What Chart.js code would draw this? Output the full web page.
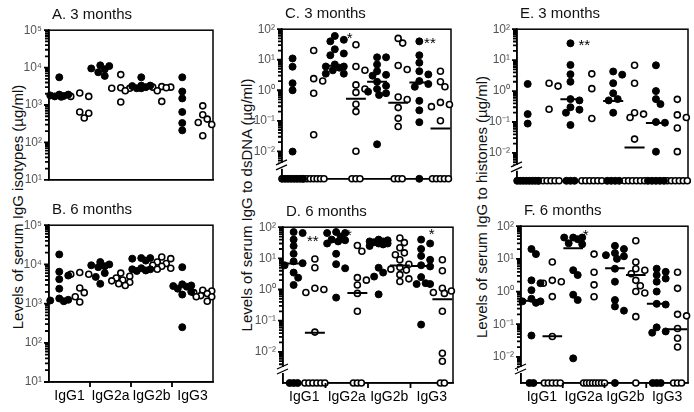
<!DOCTYPE html>
<html>
<head>
<meta charset="utf-8">
<script src="https://cdn.jsdelivr.net/npm/chart.js@4.4.1/dist/chart.umd.min.js"></script>
<style>
  body { margin: 0; background: #fff; width: 694px; height: 412px; position: relative; overflow: hidden; font-family: "Liberation Sans", Arial, sans-serif; }
  canvas { position: absolute; }
  .ttl { position: absolute; font-size: 15px; line-height: 15px; color: #111; white-space: nowrap; }
  .ytl { position: absolute; font-size: 15px; line-height: 15px; color: #111; white-space: nowrap; transform: translate(-50%, -50%) rotate(-90deg); }
</style>
</head>
<body>
<div class="ytl" style="left:17px; top:207px;">Levels of serum IgG isotypes (µg/ml)</div>
<div class="ytl" style="left:246px; top:205px;">Levels of serum IgG to dsDNA (µg/ml)</div>
<div class="ytl" style="left:481px; top:207px;">Levels of serum IgG to histones (µg/ml)</div>
<script>
const groups = ['IgG1', 'IgG2a', 'IgG2b', 'IgG3'];

// A. isotypes, 3 months
const aFilled = [[5500, 1800, 1900, 1700, 1750, 1900, 1650], [11500, 11000, 7500, 6000, 9500, 9000], [3300, 3300, 5500, 2800, 3200, 2800, 3000], [5500, 2300, 1500, 650, 330, 210]];
const aOpen = [[1700, 2100, 1700, 650, 450, 600], [6500, 2800, 2800, 2400, 2900, 1200], [3000, 3100, 3000, 2400, 2900, 1250], [950, 550, 420, 340, 300, 150]];

// B. isotypes, 6 months
const bFilled = [[18000, 6500, 5200, 4200, 2400, 1350, 1200, 1250, 1150], [10000, 9500, 11500, 6000, 8500, 9000, 4800, 3200], [12500, 14500, 14500, 14000, 7500, 7000, 7500, 8000, 6800], [8500, 2800, 2900, 2700, 3100, 2000, 1700, 2400, 250]];
const bOpen = [[5600, 6200, 5600, 2500, 1900, 1500, 1100], [6000, 4500, 5000, 3500, 3200, 2900, 4000, 3800], [8000, 14000, 11500, 15500, 7500, 9500, 9000, 10500], [1900, 2200, 2100, 1800, 1500, 1600, 1500, 1150]];

// C. dsDNA, 3 months
const cFilled = [[11, 5.9, 1.7, 1.0, 0.0098], [60, 45, 40, 22, 16, 14, 7, 6, 5.5, 6, 4.5, 3.5, 3.5], [12, 12, 7, 4.2, 3.2, 3.0, 1.9, 1.4, 1.1, 0.9, 0.8, 0.7, 0.017], [40, 14, 8, 4.2, 3.3, 2.0, 1.6, 1.3, 0.45, 0.22, 0.09]];
const cOpen = [[20, 2.0, 2.4, 0.8, 0.035], [31, 6, 4.5, 1.5, 1.1, 0.85, 0.35, 0.2, 0.01], [50, 35, 6.5, 4.8, 0.6, 0.5, 0.27, 0.12, 0.065], [4.2, 1.9, 1.3, 0.4, 0.34, 0.29, 0.1]];
const cFilledZeros = [8, 0, 0, 1];
const cOpenZeros = [7, 3, 3, 5];
const cFilledMed = [null, 6.4, 1.9, 1.8];
const cOpenMed = [null, 0.53, 0.39, 0.056];

// D. dsDNA, 6 months
const dFilled = [[70, 65, 40, 25, 14, 8, 7, 6, 3.5, 2.4, 1.4], [65, 65, 70, 50, 40, 38, 35, 30, 14, 6.5, 4.8, 0.55], [40, 35, 33, 30, 30, 35, 38, 28, 25, 5, 3.5, 2.6, 0.7], [40, 30, 20, 12, 9, 6, 5.5, 2.5, 1.6, 1.5, 1.5, 0.075]];
const dOpen = [[9.5, 5, 1.1, 1.0, 0.8, 0.043], [26, 17, 2.4, 2.0, 1.4, 0.75, 0.2], [45, 32, 22, 15, 13, 9, 6.5, 5.2, 4.5, 4.2, 3.0, 2.2, 1.8], [9, 4, 1.1, 0.9, 0.8, 0.75, 0.2, 0.009, 0.005]];
const dFilledZeros = [3, 0, 0, 0];
const dOpenZeros = [6, 3, 0, 2];
const dFilledMed = [6.9, 35, 30, 5.7];
const dOpenMed = [0.041, 0.78, 5.9, 0.49];

// E. histones, 3 months
const eFilled = [[1.7, 0.18, 0.089], [35, 7, 3.5, 2.0, 0.55, 0.5, 0.3, 0.25, 0.2, 0.08], [4.3, 3.4, 1.8, 0.85, 0.55, 0.5, 0.2], [6.8, 1.0, 0.55, 0.38, 0.1, 0.095, 0.011]];
const eOpen = [[1.45, 1.8, 0.26], [3.6, 1.2, 0.13], [6.8, 1.8, 0.2, 0.18, 0.14, 0.028], [0.54, 0.17, 0.14, 0.064, 0.011]];
const eFilledZeros = [8, 3, 4, 5];
const eOpenZeros = [6, 6, 6, 6];
const eFilledMed = [null, 0.54, 0.48, 0.093];
const eOpenMed = [null, null, 0.015, null];

// F. histones, 6 months
const fFilled = [[20, 14, 2.2, 1.8, 1.1, 0.6, 0.5, 0.5, 0.45, 0.045], [45, 45, 45, 40, 30, 28, 4.5, 3.2, 0.8, 0.55, 0.009], [25, 20, 15, 13, 12, 10, 5, 2, 0.55, 0.35, 0.26], [5, 4, 3.2, 2.5, 2.0, 1.0, 0.42, 0.4, 0.08, 0.06, 0.055]];
const fOpen = [[8, 2.2, 1.8, 2.0, 0.7, 0.042], [14, 3.9, 1.6, 0.69], [36, 8, 5, 4.5, 3.5, 2.2, 1.5, 1.0, 0.9, 0.17], [3.9, 1.25, 0.2, 0.18, 0.074, 0.037, 0.02]];
const fFilledZeros = [2, 0, 1, 3];
const fOpenZeros = [5, 8, 1, 3];
const fFilledMed = [0.52, 21, 5.2, 0.42];
const fOpenMed = [0.043, null, 3.2, 0.07];

// significance marks: x in group units (0..8), y in axis units
const cStars = [{ x: 3.2, y: 60, t: '*' }, { x: 7.0, y: 40, t: '**' }];
const dStars = [{ x: 1.4, y: 42, t: '**' }, { x: 3.1, y: 65, t: '*' }, { x: 7.0, y: 70, t: '*' }];
const eStars = [{ x: 3.15, y: 35, t: '**' }];
const fStars = [{ x: 3.1, y: 62, t: '*' }];

const panels = [
  { title: 'A. 3 months', left: 49, top: 24, w: 164, h: 162, logMin: 1, logMax: 5, filled: aFilled, open: aOpen, bottom: false },
  { title: 'B. 6 months', left: 49, top: 219, w: 164, h: 163, logMin: 1, logMax: 5, filled: bFilled, open: bOpen, bottom: true },
  { title: 'C. 3 months', left: 282, top: 23, w: 169, h: 162, logMin: -2.9, logMax: 2, filled: cFilled, open: cOpen, fz: cFilledZeros, oz: cOpenZeros, fm: cFilledMed, om: cOpenMed, stars: cStars, brk: true, bottom: false },
  { title: 'D. 6 months', left: 283, top: 221, w: 170, h: 162, logMin: -3, logMax: 2, filled: dFilled, open: dOpen, fz: dFilledZeros, oz: dOpenZeros, fm: dFilledMed, om: dOpenMed, stars: dStars, brk: true, bottom: true },
  { title: 'E. 3 months', left: 517, top: 23, w: 171, h: 164, logMin: -2.9, logMax: 2, filled: eFilled, open: eOpen, fz: eFilledZeros, oz: eOpenZeros, fm: eFilledMed, om: eOpenMed, stars: eStars, brk: true, bottom: false },
  { title: 'F. 6 months', left: 521, top: 220, w: 167, h: 163, logMin: -2.8, logMax: 2, filled: fFilled, open: fOpen, fz: fFilledZeros, oz: fOpenZeros, fm: fFilledMed, om: fOpenMed, stars: fStars, brk: true, bottom: true },
];

const SUP = { '-': '⁻', '0': '⁰', '1': '¹', '2': '²', '3': '³', '4': '⁴', '5': '⁵' };

// spread points of one group sideways so they don't sit on each other
function groupPoints(vals, zeros, gi, p) {
  const pxX = p.w / 8, pxY = p.h / (p.logMax - p.logMin);
  const c = gi + 0.5;
  const placed = [], pts = [];
  vals.slice().sort((a, b) => b - a).forEach(v => {
    const py = (Math.log10(v) - p.logMin) * pxY;
    let best = 0, bestD = -1;
    for (const off of [0, 4.5, -4.5, 9, -9, 2, -2, 6.5, -6.5]) {
      const d = Math.min(99, ...placed.map(q => Math.hypot(q.x - off, q.y - py)));
      if (d >= 6.5) { best = off; bestD = d; break; }
      if (d > bestD) { bestD = d; best = off; }
    }
    placed.push({ x: best, y: py });
    pts.push({ x: c + best / pxX, y: v });
  });
  const step = Math.min(4, 24 / Math.max(zeros, 1));
  for (let k = 0; k < zeros; k++) {
    pts.push({ x: c + (k - (zeros - 1) / 2) * step / pxX, y: Math.pow(10, p.logMin) });
  }
  return pts;
}

const boxPlugin = {
  id: 'box',
  beforeDatasetsDraw(chart) {
    const a = chart.chartArea, ctx = chart.ctx;
    ctx.save();
    ctx.strokeStyle = '#000';
    ctx.lineWidth = 1.5;
    ctx.strokeRect(a.left, a.top, a.right - a.left, a.bottom - a.top);
    ctx.restore();
  }
};

function build(p) {
  const Y_W = 44, PT = 8, PR = 6, XH = p.bottom ? 30 : 8;
  const cv = document.createElement('canvas');
  cv.width = Y_W + p.w + PR;
  cv.height = PT + p.h + XH;
  cv.style.left = (p.left - Y_W) + 'px';
  cv.style.top = (p.top - PT) + 'px';
  document.body.appendChild(cv);

  const t = document.createElement('div');
  t.className = 'ttl';
  t.textContent = p.title;
  t.style.left = (p.left + 3) + 'px';
  t.style.top = (p.top - 18) + 'px';
  document.body.appendChild(t);

  let filledPts = [], openPts = [];
  for (let i = 0; i < 4; i++) {
    filledPts = filledPts.concat(groupPoints(p.filled[i], p.fz ? p.fz[i] : 0, 2 * i, p));
    openPts = openPts.concat(groupPoints(p.open[i], p.oz ? p.oz[i] : 0, 2 * i + 1, p));
  }
  const med = [];
  if (p.fm) {
    for (let i = 0; i < 4; i++) {
      [[2 * i, p.fm[i]], [2 * i + 1, p.om[i]]].forEach(([g, m]) => {
        if (m) med.push({ x: g + 0.03, y: m }, { x: g + 0.97, y: m }, { x: g + 0.5, y: null });
      });
    }
  }

  // log ticks: 1..9 in every decade, cut below the axis break
  const floor = p.brk ? 0.004 : 0;
  const yTicks = [];
  for (let e = Math.floor(p.logMin); e <= p.logMax; e++) {
    for (let s = 1; s <= 9; s++) {
      const v = s * Math.pow(10, e);
      if (v >= Math.pow(10, p.logMin) - 1e-12 && v <= Math.pow(10, p.logMax) * 1.0001 && v >= floor) yTicks.push(v);
    }
  }

  const extras = {
    id: 'extras',
    afterDraw(chart) {
      const ctx = chart.ctx, a = chart.chartArea;
      const xs = chart.scales.x, ys = chart.scales.y;
      ctx.save();
      // tick marks taken from the scales' own ticks
      ctx.strokeStyle = '#000';
      ctx.lineWidth = 1.8;
      ctx.beginPath();
      ys.ticks.forEach(tk => {
        const y = ys.getPixelForValue(tk.value);
        const major = Math.abs(Math.log10(tk.value) - Math.round(Math.log10(tk.value))) < 1e-6;
        ctx.moveTo(a.left - (major ? 5 : 4), y); ctx.lineTo(a.left, y);
      });
      if (p.bottom) {
        xs.ticks.forEach(tk => {
          if (tk.value % 2 !== 0) return;
          const x = xs.getPixelForValue(tk.value);
          ctx.moveTo(x, a.bottom); ctx.lineTo(x, a.bottom + 5);
        });
      }
      ctx.stroke();
      if (p.brk) {
        const yb = a.bottom - 13;
        ctx.fillStyle = '#fff';
        ctx.fillRect(a.left - 3, yb - 3, 6, 6);
        ctx.lineWidth = 1.3;
        ctx.beginPath();
        ctx.moveTo(a.left - 6, yb - 1); ctx.lineTo(a.left + 5, yb - 6);
        ctx.moveTo(a.left - 6, yb + 4); ctx.lineTo(a.left + 5, yb - 1);
        ctx.stroke();
      }
      ctx.fillStyle = '#000';
      ctx.font = '15px "Liberation Sans", Arial, sans-serif';
      ctx.textAlign = 'center';
      ctx.textBaseline = 'middle';
      (p.stars || []).forEach(s => {
        ctx.fillText(s.t, xs.getPixelForValue(s.x), ys.getPixelForValue(s.y) + 3);
      });
      ctx.restore();
    }
  };

  new Chart(cv, {
    type: 'scatter',
    data: {
      datasets: [
        { data: med, showLine: true, spanGaps: false, borderColor: '#000', borderWidth: 2, pointRadius: 0, clip: false },
        { data: filledPts, backgroundColor: '#000', borderColor: '#000', borderWidth: 1, pointRadius: 3.5, clip: false },
        { data: openPts, backgroundColor: '#fff', borderColor: '#000', borderWidth: 1.6, pointRadius: 3.0, clip: false },
      ]
    },
    options: {
      responsive: false,
      animation: false,
      events: [],
      layout: { padding: { top: PT, right: PR, left: 0, bottom: 0 } },
      plugins: { legend: { display: false }, tooltip: { enabled: false } },
      scales: {
        x: {
          type: 'linear', min: 0, max: 8,
          afterBuildTicks: s => { s.ticks = [1, 2, 3, 4, 5, 6, 7].map(v => ({ value: v })); },
          afterFit: s => { s.height = XH; },
          border: { display: true, color: '#000', width: 1.5 },
          grid: { display: false, drawTicks: false },
          ticks: {
            display: p.bottom, autoSkip: false, maxRotation: 0, padding: 6,
            color: '#000', font: { size: 14, family: '"Liberation Sans", Arial, sans-serif' },
            callback: v => v % 2 === 1 ? groups[(v - 1) / 2] : ''
          }
        },
        y: {
          type: 'logarithmic', min: Math.pow(10, p.logMin), max: Math.pow(10, p.logMax),
          afterBuildTicks: s => { s.ticks = yTicks.map(v => ({ value: v })); },
          afterFit: s => { s.width = Y_W; },
          border: { display: true, color: '#000', width: 1.5 },
          grid: { display: false, drawTicks: false },
          ticks: {
            autoSkip: false, padding: 7, color: '#555',
            font: { size: 12, family: '"Liberation Sans", Arial, sans-serif' },
            callback: v => {
              const e = Math.log10(v);
              if (Math.abs(e - Math.round(e)) > 1e-6) return '';
              return '10' + String(Math.round(e)).split('').map(ch => SUP[ch]).join('');
            }
          }
        }
      }
    },
    plugins: [boxPlugin, extras]
  });
}

panels.forEach(build);
</script>
</body>
</html>
